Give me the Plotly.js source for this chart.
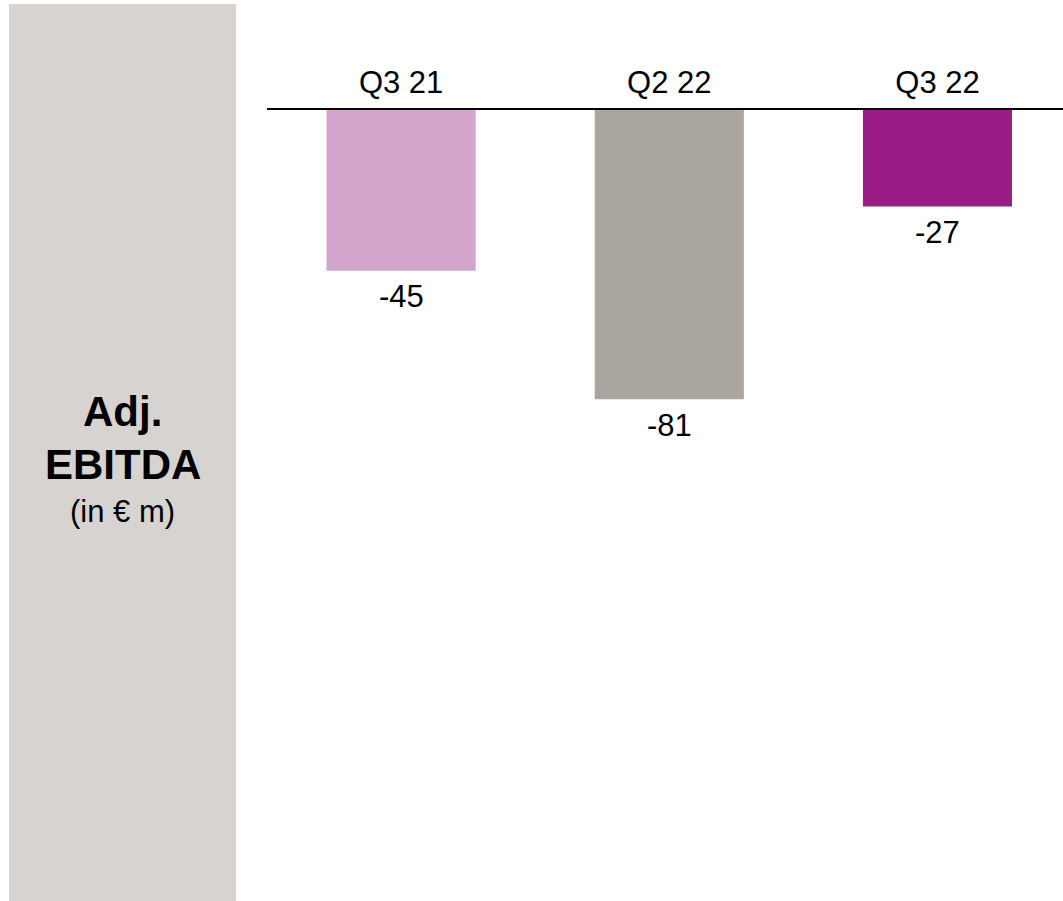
<!DOCTYPE html>
<html>
<head>
<meta charset="utf-8">
<script src="https://cdn.plot.ly/plotly-3.0.1.min.js"></script>
<style>html,body{margin:0;padding:0;background:#fff;}</style>
</head>
<body>
<div id="chart" style="width:1063px;height:901px;"></div>
<script>
const categories = ["Q3 21", "Q2 22", "Q3 22"];
const values = [-45, -81, -27];
const valueLabels = ["-45", "-81", "-27"];
const barColors = ["#D4A5CC", "#AAA59F", "#9B1C84"];

const FONT = "Liberation Sans, Arial, sans-serif";

const trace = {
  type: "bar",
  x: categories,
  y: values,
  marker: {color: barColors, line: {width: 0}},
  width: 0.556,
  hoverinfo: "skip"
};

const annotations = categories.map((c, i) => ({
  x: c, y: values[i], xref: "x", yref: "y",
  text: valueLabels[i], showarrow: false,
  yanchor: "middle", yshift: -26,
  font: {family: FONT, size: 31, color: "#000"}
}));

annotations.push(
  {xref: "paper", yref: "paper", x: -0.1815, y: 0.618, yshift: 1, xanchor: "center", yanchor: "middle",
   text: "<b>Adj.</b>", showarrow: false, font: {family: FONT, size: 42, color: "#000"}},
  {xref: "paper", yref: "paper", x: -0.1815, y: 0.618, yshift: -52, xanchor: "center", yanchor: "middle",
   text: "<b>EBITDA</b>", showarrow: false, font: {family: FONT, size: 42, color: "#000"}},
  {xref: "paper", yref: "paper", x: -0.1815, y: 0.618, yshift: -99, xanchor: "center", yanchor: "middle",
   text: "(in € m)", showarrow: false, font: {family: FONT, size: 31, color: "#000"}}
);

const layout = {
  width: 1063, height: 901,
  margin: {l: 267, r: 0, t: 110, b: 0, pad: 0},
  paper_bgcolor: "#fff", plot_bgcolor: "#fff",
  showlegend: false,
  xaxis: {
    type: "category", side: "top", range: [-0.5, 2.468],
    showline: true, linecolor: "#000", linewidth: 2,
    showgrid: false, zeroline: false, ticks: "",
    ticklabelstandoff: 3,
    tickfont: {family: FONT, size: 31, color: "#000"},
    fixedrange: true
  },
  yaxis: {
    range: [-221.5, 0], showgrid: false, zeroline: false,
    showticklabels: false, ticks: "", showline: false, fixedrange: true
  },
  shapes: [{
    type: "rect", xref: "paper", yref: "paper",
    x0: -0.3241, x1: -0.0389, y0: 0, y1: 1.1340,
    fillcolor: "#D7D3D0", line: {width: 0}, layer: "below"
  }],
  annotations: annotations
};

Plotly.newPlot("chart", [trace], layout, {displayModeBar: false, staticPlot: true});
</script>
</body>
</html>
